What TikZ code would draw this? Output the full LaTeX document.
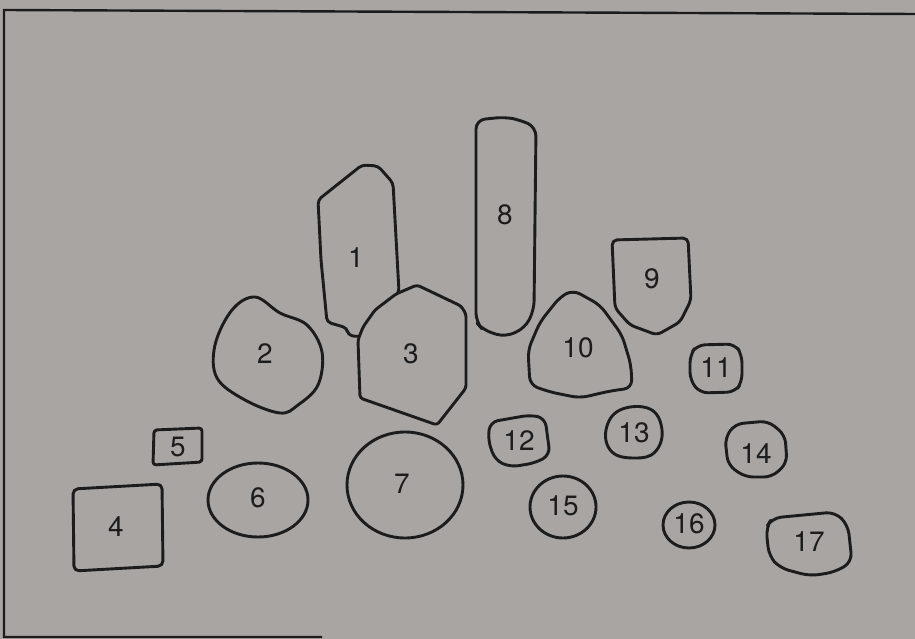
\documentclass[tikz,border=0pt]{standalone}
\usepackage{fontspec}
\setmainfont{TeX Gyre Heros}
\usepackage{xcolor}
\usetikzlibrary{calc}

\definecolor{plate}{RGB}{168,165,162}
\definecolor{ink}{RGB}{28,28,28}

\begin{document}
\begin{tikzpicture}[
  x=1pt, y=-1pt,
  % outlines of the stones, labels inside
  stone/.style={draw=ink, line width=2.9pt, line join=round, fill=plate},
  frame/.style={draw=ink, line width=2.4pt},
  num/.style={font=\fontsize{28}{32}\selectfont, text=ink, inner sep=0pt},
]
\useasboundingbox (0,0) rectangle (915,639);
\fill[plate] (0,0) rectangle (915,639);

%% ── Frame ─────────────────────────────────────────────────────────
\draw[frame] (322,637) -- (4,637) -- (4,10) -- (915,14);

%% ── Upper group ───────────────────────────────────────────────────
\draw[stone, rounded corners=4pt] (318,200) -- (362,165) -- (378,166)
  -- (393,183) -- (399,292) -- (372,330) -- (359,337) -- (348,335)
  -- (347,328) -- (327,322) -- (321,260) -- cycle;
\draw[stone, rounded corners=3pt] (417,285) -- (461,306) -- (466,314)
  -- (466,388) -- (437,425) -- (360,398) -- (358,340) -- (363,327)
  -- (375,310) -- (396,294) -- cycle;
\draw[stone] plot[smooth cycle, tension=0.6] coordinates {(255,297)
  (280,313) (307,325) (322,352) (318,385) (298,405) (280,413) (245,400)
  (217,378) (215,345) (232,310)};
\draw[stone, rounded corners=9pt] (476,120) -- (505,117) -- (520,120)
  -- (536,127) -- (534,310) -- (525,328) -- (505,337) -- (483,330)
  -- (476,322) -- cycle;
\draw[stone, rounded corners=5pt] (612,240) -- (688,238) -- (691,300)
  -- (680,322) -- (657,335) -- (630,325) -- (615,308) -- cycle;
\draw[stone, rounded corners=8pt] (573,290) -- (600,305) -- (622,335)
  -- (631,365) -- (632,388) -- (610,391) -- (580,398) -- (550,392)
  -- (530,385) -- (528,350) -- (540,322) -- (560,297) -- cycle;

%% ── Lower left ────────────────────────────────────────────────────
\draw[stone, rounded corners=5pt] (73,489) -- (162,484) -- (163,566)
  -- (74,571) -- cycle;
\draw[stone, rounded corners=3pt] (154,430) -- (202,428) -- (202,462)
  -- (153,465) -- cycle;
\draw[stone] (258,500) ellipse [x radius=50, y radius=37];
\draw[stone] (405,485) ellipse [x radius=58, y radius=53];

%% ── Small stones, right ───────────────────────────────────────────
\draw[stone, rounded corners=8pt] (697,345) -- (735,344) -- (742,355)
  -- (742,382) -- (735,392) -- (700,393) -- (690,380) -- (690,355) -- cycle;
\draw[stone, rounded corners=8pt] (490,422) -- (530,415) -- (545,418)
  -- (550,455) -- (535,463) -- (510,467) -- (495,460) -- (488,440) -- cycle;
\draw[stone] plot[smooth cycle, tension=0.7] coordinates {(620,410)
  (650,409) (662,430) (655,452) (635,458) (612,452) (606,430)};
\draw[stone, rounded corners=8pt] (735,424) -- (768,421) -- (785,435)
  -- (787,463) -- (772,477) -- (745,477) -- (728,465) -- (725,438) -- cycle;
\draw[stone] (563,507) ellipse [x radius=33, y radius=31];
\draw[stone] (689,525) ellipse [x radius=26, y radius=23];
\draw[stone, rounded corners=9pt] (772,518) -- (835,512) -- (848,525)
  -- (852,562) -- (835,572) -- (810,576) -- (780,568) -- (769,556)
  -- (766,528) -- cycle;

%% ── Numbers ───────────────────────────────────────────────────────
\foreach \n/\px/\py in {1/356/258, 2/265/354, 3/411/354, 4/116/527,
                        5/178/447, 6/258/498, 7/402/484, 8/505/215,
                        9/652/279, 10/578/348, 11/716/368, 12/519/441,
                        13/634/433, 14/756/454, 15/563/506, 16/689/524,
                        17/809/542}
  \node[num] (n\n) at (\px,\py) {\n};

\end{tikzpicture}
\end{document}
